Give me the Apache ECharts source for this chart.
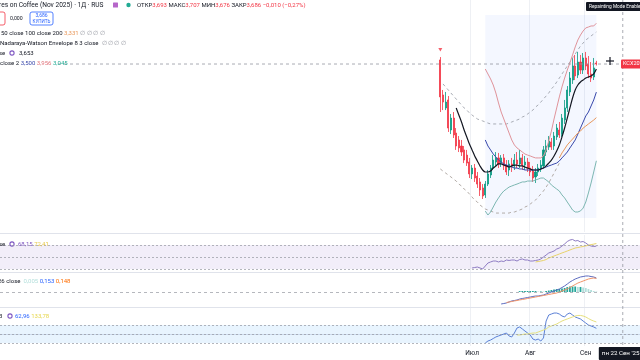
<!DOCTYPE html>
<html><head><meta charset="utf-8">
<script src="https://cdn.jsdelivr.net/npm/echarts@6.0.0/dist/echarts.min.js"></script>
<style>html,body{margin:0;padding:0;background:#fff}#c{width:640px;height:360px}</style>
</head><body><div id="c"></div>
<script>
// ---------- axis / calendar ----------
const holidays = ['2025-06-19', '2025-07-04', '2025-09-01'];
const axisFirstDay = '2024-10-23';
const axisLastDay = '2025-09-30';
const monthTickDates = ['2025-07-01', '2025-08-01', '2025-09-02'];
const monthTickLabels = ['Июл', 'Авг', 'Сен'];
const crossDate = '2025-09-22';
const crossDateLabel = "пн 22 Сен '25";

// ---------- price candles (from 2025-06-12) ----------
const candleStart = '2025-06-12';
const candleOpen = [3.713,3.481,3.395,3.448,3.249,3.328,3.229,3.183,3.143,3.117,3.083,3.037,2.958,2.997,2.944,2.905,2.865,2.819,2.891,2.951,2.997,3.037,3.064,3.030,3.064,3.017,2.984,3.024,3.011,3.050,3.024,3.064,3.017,3.037,2.997,2.977,2.938,2.971,2.997,3.011,3.103,3.136,3.170,3.143,3.203,3.249,3.222,3.315,3.395,3.501,3.580,3.673,3.613,3.699,3.646,3.726,3.686,3.620,3.600,3.693];
const candleClose = [3.468,3.434,3.434,3.262,3.328,3.216,3.143,3.130,3.103,3.050,3.030,2.958,2.997,2.931,2.891,2.852,2.812,2.891,2.958,2.997,3.050,3.064,3.024,3.064,3.011,2.971,3.024,3.011,3.050,3.024,3.064,3.017,3.037,2.997,2.971,2.931,2.971,2.997,3.017,3.117,3.143,3.176,3.136,3.209,3.262,3.216,3.328,3.395,3.514,3.593,3.673,3.607,3.699,3.646,3.726,3.673,3.620,3.593,3.660,3.686];
const candleLow = [3.368,3.381,3.381,3.236,3.222,3.196,3.117,3.103,3.077,3.030,3.011,2.931,2.924,2.905,2.865,2.812,2.792,2.799,2.878,2.931,2.984,3.011,2.997,3.004,2.984,2.951,2.944,2.971,2.984,2.997,2.997,2.984,2.984,2.971,2.944,2.905,2.898,2.944,2.971,2.997,3.077,3.117,3.117,3.117,3.183,3.196,3.203,3.289,3.368,3.474,3.554,3.580,3.593,3.620,3.620,3.646,3.593,3.567,3.580,3.676];
const candleHigh = [3.732,3.514,3.501,3.474,3.355,3.368,3.262,3.209,3.183,3.143,3.117,3.064,3.017,3.024,2.971,2.931,2.891,2.911,2.984,3.017,3.083,3.103,3.097,3.083,3.090,3.050,3.050,3.064,3.090,3.103,3.117,3.090,3.077,3.064,3.037,3.011,2.997,3.024,3.050,3.143,3.183,3.209,3.196,3.236,3.289,3.302,3.355,3.448,3.540,3.633,3.726,3.746,3.766,3.746,3.759,3.766,3.739,3.699,3.726,3.707];
const lastClose = 3.686;
const signalMarkDate = '2025-06-12';
const signalMarkPrice = 3.78;

// ---------- main-pane indicators ----------
const fastLineStart = '2025-06-23';
const fastLine = [3.395,3.348,3.302,3.249,3.203,3.156,3.117,3.077,3.044,3.011,2.984,2.971,2.971,2.977,2.997,3.011,3.024,3.024,3.017,3.011,3.004,3.011,3.017,3.017,3.011,3.011,3.004,2.997,2.991,2.984,2.984,2.984,2.991,2.997,3.011,3.030,3.050,3.077,3.110,3.150,3.203,3.262,3.328,3.395,3.461,3.514,3.547,3.567,3.580,3.593,3.600,3.607,3.620,3.653];
const bbStart = '2025-07-09';
const bbBasis = [3.183,3.143,3.117,3.090,3.070,3.050,3.037,3.024,3.017,3.011,3.004,2.997,2.997,2.991,2.991,2.984,2.984,2.984,2.984,2.984,2.984,2.991,2.997,3.004,3.011,3.017,3.024,3.030,3.044,3.064,3.083,3.103,3.130,3.156,3.183,3.222,3.262,3.302,3.342,3.368,3.408,3.448,3.500];
const bbUpper = [3.653,3.620,3.587,3.547,3.494,3.428,3.368,3.322,3.275,3.229,3.183,3.150,3.130,3.117,3.103,3.090,3.083,3.077,3.070,3.064,3.064,3.064,3.077,3.117,3.176,3.242,3.322,3.395,3.468,3.534,3.593,3.646,3.693,3.746,3.799,3.845,3.878,3.905,3.925,3.931,3.938,3.938,3.956];
const bbLower = [2.712,2.686,2.706,2.739,2.772,2.799,2.825,2.845,2.858,2.871,2.878,2.885,2.891,2.898,2.905,2.905,2.911,2.911,2.911,2.918,2.924,2.931,2.931,2.918,2.905,2.885,2.871,2.858,2.845,2.819,2.799,2.772,2.746,2.719,2.706,2.706,2.713,2.732,2.772,2.832,2.898,2.971,3.045];
const ma50Start = '2025-08-18';
const ma50 = [3.064,3.097,3.123,3.150,3.170,3.189,3.209,3.229,3.242,3.262,3.275,3.289,3.302,3.315,3.331];
const nwUpperStart = '2025-06-13';
const nwUpper = [3.554,3.534,3.514,3.494,3.474,3.454,3.434,3.415,3.395,3.381,3.362,3.348,3.335,3.322,3.315,3.309,3.302,3.295,3.289,3.289,3.289,3.289,3.289,3.289,3.289,3.295,3.302,3.309,3.315,3.322,3.335,3.342,3.355,3.368,3.381,3.401,3.415,3.434,3.454,3.474,3.494,3.521,3.540,3.567,3.593,3.620,3.646,3.673,3.699,3.726,3.752,3.779,3.805,3.825,3.845,3.858,3.872,3.885,3.898];
const nwLowerStart = '2025-06-12';
const nwLower = [2.991,2.977,2.964,2.951,2.938,2.924,2.911,2.891,2.878,2.858,2.845,2.825,2.805,2.785,2.772,2.752,2.739,2.726,2.719,2.712,2.706,2.699,2.699,2.699,2.699,2.699,2.699,2.706,2.706,2.712,2.719,2.726,2.739,2.746,2.759,2.772,2.785,2.805,2.825,2.845,2.871,2.898,2.931,2.964,2.997,3.030];
const boxStart = '2025-07-09', boxEnd = '2025-09-08', boxTop = 4.01, boxBottom = 2.666;

// ---------- RSI ----------
const rsiStart = '2025-07-01';
const rsi = [31.7,32.5,33.3,31.7,30.0,35.0,40.0,41.7,43.3,43.3,41.7,43.3,42.5,45.0,44.2,45.0,45.0,43.3,45.8,46.7,45.0,45.0,43.3,43.3,44.2,45.0,46.7,50.0,53.3,56.7,58.3,60.0,63.3,65.0,68.3,71.7,75.8,78.3,79.2,76.7,77.5,75.0,75.8,73.3,70.0,68.3,67.5,68.15];
const rsiMaStart = '2025-08-05';
const rsiMa = [41.7,42.5,43.3,44.2,45.8,48.3,50.0,51.7,53.3,55.0,56.7,58.3,60.0,61.7,63.3,65.0,65.8,66.7,67.5,68.5,69.6,70.6,71.5,72.41];
const rsiBands = [70, 50, 30];

// ---------- MACD ----------
const macdStart = '2025-07-17';
const macd = [-0.131,-0.126,-0.120,-0.109,-0.098,-0.093,-0.087,-0.077,-0.071,-0.066,-0.060,-0.055,-0.049,-0.044,-0.044,-0.038,-0.033,-0.022,-0.011,0.000,0.011,0.022,0.033,0.049,0.066,0.087,0.109,0.126,0.142,0.153,0.164,0.169,0.175,0.175,0.169,0.164,0.153];
const signalStart = '2025-07-21';
const signal = [-0.115,-0.109,-0.104,-0.098,-0.093,-0.087,-0.082,-0.077,-0.071,-0.066,-0.060,-0.055,-0.049,-0.044,-0.038,-0.033,-0.027,-0.022,-0.016,-0.011,0.000,0.011,0.022,0.033,0.049,0.066,0.082,0.098,0.109,0.120,0.131,0.142,0.148,0.153,0.148];
const histStart = '2025-07-28';
const hist = [0.010,0.011,0.011,0.011,0.011,0.011,0.011,0.005,0.006,0.005,0.011,0.016,0.022,0.027,0.033,0.033,0.038,0.044,0.054,0.060,0.060,0.060,0.055,0.055,0.049,0.044,0.033,0.021,0.011,0.005];

// ---------- CCI ----------
const cciStart = '2025-07-09';
const cci = [-100,-78,-67,-50,-33,-22,-11,0,11,-22,-33,11,67,78,56,33,11,-11,-56,-67,-56,-78,-44,144,211,222,233,233,222,200,189,222,233,211,189,178,167,144,122,100,89,78,62.96];
const cciMaStart = '2025-07-25';
const cciMa = [-11,-11,-6,0,0,6,11,11,22,33,44,56,78,89,100,111,128,144,156,167,178,189,200,206,206,200,189,172,156,144,133.78];
const cciBands = [100, 0, -100];

// ---------- build ----------
function tradingDays(start, end, skip) {
  const out = [];
  let t = Date.parse(start + 'T00:00:00Z');
  const e = Date.parse(end + 'T00:00:00Z');
  while (t <= e) {
    const d = new Date(t);
    const wd = d.getUTCDay();
    const s = d.toISOString().slice(0, 10);
    if (wd !== 0 && wd !== 6 && skip.indexOf(s) < 0) out.push(s);
    t += 86400000;
  }
  return out;
}
const categories = tradingDays(axisFirstDay, axisLastDay, holidays);
function align(start, values, empty) {
  const out = categories.map(() => empty === undefined ? '-' : empty);
  const s = categories.indexOf(start);
  values.forEach((v, k) => { out[s + k] = v; });
  return out;
}
const candleData = align(candleStart, candleOpen.map((o, k) => [o, candleClose[k], candleLow[k], candleHigh[k]]), ['-', '-', '-', '-']);
const histData = align(histStart, hist.map((v, k) => ({
  value: v,
  itemStyle: { color: (k > 0 && v < hist[k - 1]) ? '#b2dfdb' : '#26a69a' }
})));

const FONT = 'Roboto, "Liberation Sans", sans-serif';
const BAR = 2.69;               // px per trading day
const GL = -4.2;                // grid left
const GW = categories.length * BAR;
const monthSet = new Set(monthTickDates);

function xAxisFor(i, labels) {
  return {
    type: 'category', gridIndex: i, data: categories, boundaryGap: true,
    axisLine: { show: labels, lineStyle: { color: '#e0e3eb' } },
    axisTick: { show: false },
    axisLabel: {
      show: labels, interval: (idx, val) => monthSet.has(val),
      formatter: (val) => monthTickLabels[monthTickDates.indexOf(val)] || '',
      fontSize: 6.5, color: '#131722', margin: 4, fontFamily: FONT
    },
    splitLine: { show: true, interval: (idx, val) => monthSet.has(val), lineStyle: { color: '#eef0f4', width: 1 } }
  };
}
function yAxisFor(i, min, max) {
  return { type: 'value', gridIndex: i, min: min, max: max, show: true,
    axisLine: { show: false }, axisTick: { show: false }, axisLabel: { show: false }, splitLine: { show: false } };
}
function line(x, data, color, width, extra) {
  return Object.assign({ type: 'line', xAxisIndex: x, yAxisIndex: x, data: data, symbol: 'none',
    lineStyle: { color: color, width: width }, silent: true, connectNulls: false }, extra || {});
}
function hLines(vals, dash) {
  return { silent: true, symbol: 'none', label: { show: false },
    lineStyle: { color: '#9598a1', width: 0.7, type: dash },
    data: vals.map(v => ({ yAxis: v })) };
}

const option = {
  animation: false,
  backgroundColor: '#ffffff',
  grid: [
    { left: GL, width: GW, top: 0, height: 232 },
    { left: GL, width: GW, top: 235, height: 37 },
    { left: GL, width: GW, top: 273, height: 34 },
    { left: GL, width: GW, top: 308, height: 38 }
  ],
  xAxis: [xAxisFor(0, false), xAxisFor(1, false), xAxisFor(2, false), xAxisFor(3, true)],
  yAxis: [yAxisFor(0, 2.5735, 4.1099), yAxisFor(1, 25, 86.667), yAxisFor(2, -0.164, 0.2077), yAxisFor(3, -133.3, 288.9)],
  series: [
    line(0, align(bbStart, bbBasis), '#3949ab', 1, {
      markArea: { silent: true, itemStyle: { color: 'rgba(41,98,255,0.05)' },
        data: [[{ coord: [boxStart, boxTop] }, { coord: [boxEnd, boxBottom] }]] }
    }),
    line(0, align(nwUpperStart, nwUpper), '#9ea3ab', 0.9, { lineStyle: { color: '#9ea3ab', width: 0.9, type: [3, 3] } }),
    line(0, align(nwLowerStart, nwLower), '#9ea3ab', 0.9, { lineStyle: { color: '#a9a29c', width: 0.9, type: [3, 3] } }),
    line(0, align(bbStart, bbUpper), '#e0939a', 1),
    line(0, align(bbStart, bbLower), '#7db7b2', 1),
    line(0, align(ma50Start, ma50), '#e8975a', 1),
    {
      type: 'candlestick', xAxisIndex: 0, yAxisIndex: 0, data: candleData, barWidth: 1.6, silent: true,
      itemStyle: { color: '#089981', color0: '#f23645', borderColor: '#089981', borderColor0: '#f23645', borderWidth: 0.8 }
    },
    line(0, align(fastLineStart, fastLine), '#131722', 1.2, { smooth: 0.3 }),
    {
      type: 'scatter', xAxisIndex: 0, yAxisIndex: 0, silent: true,
      data: [[signalMarkDate, signalMarkPrice]], symbol: 'triangle', symbolRotate: 180, symbolSize: [4, 3.5],
      itemStyle: { color: '#f23645' }
    },
    // RSI
    line(1, align(rsiStart, rsi), '#8e7cc3', 1, {
      markArea: { silent: true, itemStyle: { color: 'rgba(126,87,194,0.1)' }, data: [[{ yAxis: 70 }, { yAxis: 30 }]] },
      markLine: hLines(rsiBands, [2, 2])
    }),
    line(1, align(rsiMaStart, rsiMa), '#e8d36a', 1),
    // MACD
    { type: 'bar', xAxisIndex: 2, yAxisIndex: 2, data: histData, barWidth: 1.8, silent: true,
      markLine: hLines([0], [3, 3]) },
    line(2, align(macdStart, macd), '#5c6bc0', 1),
    line(2, align(signalStart, signal), '#f0956b', 1),
    // CCI
    line(3, align(cciStart, cci), '#5b80d6', 1, {
      markArea: { silent: true, itemStyle: { color: 'rgba(33,150,243,0.1)' }, data: [[{ yAxis: 100 }, { yAxis: -100 }]] },
      markLine: hLines(cciBands, [2, 2])
    }),
    line(3, align(cciMaStart, cciMa), '#e6e07e', 1)
  ]
};

const chart = echarts.init(document.getElementById('c'), null, { renderer: 'canvas' });
chart.setOption(option);

const cx = chart.convertToPixel({ xAxisIndex: 0 }, crossDate);
const cy = chart.convertToPixel({ yAxisIndex: 0 }, lastClose);

function txt(x, y, text, size, fill, rich, extra) {
  return Object.assign({ type: 'text', silent: true, z: 100,
    style: { x: x, y: y, text: text, fill: fill || '#131722', font: size + 'px ' + FONT,
      textVerticalAlign: 'middle', rich: rich } }, extra || {});
}
const R = (c, s) => ({ fill: c, fontSize: s || 6, fontFamily: FONT });
const richHdr = { d: R('#131722'), r: R('#f23645') };
const graphics = [
  // pane separators
  { type: 'line', silent: true, shape: { x1: 0, y1: 233.5, x2: 640, y2: 233.5 }, style: { stroke: '#e0e3eb', lineWidth: 1 } },
  { type: 'line', silent: true, shape: { x1: 0, y1: 272.5, x2: 640, y2: 272.5 }, style: { stroke: '#e0e3eb', lineWidth: 1 } },
  { type: 'line', silent: true, shape: { x1: 0, y1: 307.5, x2: 640, y2: 307.5 }, style: { stroke: '#e0e3eb', lineWidth: 1 } },
  // crosshair
  { type: 'line', silent: true, z: 50, shape: { x1: cx, y1: 0, x2: cx, y2: 346 }, style: { stroke: '#9598a1', lineWidth: 0.8, lineDash: [3, 3] } },
  { type: 'line', silent: true, z: 50, shape: { x1: 58, y1: cy, x2: 621, y2: cy }, style: { stroke: '#9598a1', lineWidth: 0.8, lineDash: [3, 3] } },
  { type: 'line', silent: true, z: 60, shape: { x1: 606, y1: 61, x2: 614, y2: 61 }, style: { stroke: '#131722', lineWidth: 1.2 } },
  { type: 'line', silent: true, z: 60, shape: { x1: 610, y1: 57, x2: 610, y2: 65 }, style: { stroke: '#131722', lineWidth: 1.2 } },
  // header row 1
  txt(-1, 5, 'res on Coffee (Nov 2025) · 1Д · RUS', 6.6),
  { type: 'rect', silent: true, shape: { x: 113, y: 2.5, width: 5, height: 5, r: 0.5 }, style: { fill: '#b667c9' } },
  { type: 'circle', silent: true, shape: { cx: 128.5, cy: 5, r: 2.2 }, style: { fill: '#22ab94' } },
  txt(137, 5, '{d|ОТКР}{r|3,693} {d|МАКС}{r|3,707} {d|МИН}{r|3,676} {d|ЗАКР}{r|3,686} {r|−0,010 (−0,27%)}', 6, null, richHdr),
  // row 2 buttons
  { type: 'rect', silent: true, shape: { x: -20, y: 12, width: 25, height: 13, r: 2 }, style: { fill: '#fff', stroke: '#f23645', lineWidth: 0.8 } },
  txt(10, 18.5, '0,000', 5.2, '#131722'),
  { type: 'rect', silent: true, shape: { x: 30, y: 12, width: 23, height: 13, r: 2 }, style: { fill: '#fff', stroke: '#2962ff', lineWidth: 0.8 } },
  { type: 'text', silent: true, z: 100, style: { x: 41.5, y: 15.5, text: '3,686', fill: '#2962ff', font: '5px ' + FONT, textAlign: 'center', textVerticalAlign: 'middle' } },
  { type: 'text', silent: true, z: 100, style: { x: 41.5, y: 21.5, text: 'КУПИТЬ', fill: '#2962ff', font: '4.6px ' + FONT, textAlign: 'center', textVerticalAlign: 'middle' } },
  // indicator legends (main)
  txt(1, 33, '50 close 100 close 200 {o|3,331} {g|∅ ∅ ∅ ∅}', 6, null, { o: R('#e8975a'), g: R('#9598a1') }),
  txt(0, 43, 'Nadaraya-Watson Envelope 8 3 close  {g|∅ ∅ ∅ ∅}', 6, null, { g: R('#9598a1') }),
  txt(-1, 53, 'se', 6),
  { type: 'circle', silent: true, shape: { cx: 12, cy: 53, r: 2.1 }, style: { fill: 'none', stroke: '#7e57c2', lineWidth: 1.1 } },
  txt(19, 53, '3,653', 6),
  txt(0, 63.5, 'close 2 {b|3,500} {r|3,956} {t|3,045}', 6, null, { b: R('#3949ab'), r: R('#e0727a'), t: R('#22ab94') }),
  // sub-pane legends
  txt(-1, 244, 'se', 6),
  { type: 'circle', silent: true, shape: { cx: 12, cy: 244, r: 2.1 }, style: { fill: 'none', stroke: '#7e57c2', lineWidth: 1.1 } },
  txt(18, 244, '{p|68,15} {y|72,41}', 6, null, { p: R('#7e57c2'), y: R('#e6c84a') }),
  txt(-2, 281, '26 close  {a|0,005} {b|0,153} {c|0,148}', 6, null, { a: R('#b2dfdb'), b: R('#2962ff'), c: R('#ff6d00') }),
  txt(-1, 316, '3', 6),
  { type: 'circle', silent: true, shape: { cx: 10, cy: 316, r: 2.1 }, style: { fill: 'none', stroke: '#7e57c2', lineWidth: 1.1 } },
  txt(15, 316, '{b|62,96} {y|133,78}', 6, null, { b: R('#2962ff'), y: R('#e6d64a') }),
  // right-side labels
  { type: 'rect', silent: true, z: 70, shape: { x: 586, y: 2, width: 56, height: 9, r: 1 }, style: { fill: '#131722' } },
  txt(589, 6.5, 'Repainting Mode Enabled', 4.8, '#ffffff', null, { z: 71 }),
  { type: 'rect', silent: true, z: 70, shape: { x: 621, y: cy - 4.5, width: 25, height: 9, r: 1 }, style: { fill: '#f23645' } },
  txt(623, cy, 'KCX2025', 5.5, '#ffffff', null, { z: 71 }),
  { type: 'rect', silent: true, z: 70, shape: { x: cx - 24, y: 347, width: 60, height: 13, r: 1 }, style: { fill: '#131722' } },
  txt(cx - 21, 353.5, crossDateLabel, 6.2, '#ffffff', null, { z: 71 })
];
chart.setOption({ graphic: graphics });
</script>
</body></html>
